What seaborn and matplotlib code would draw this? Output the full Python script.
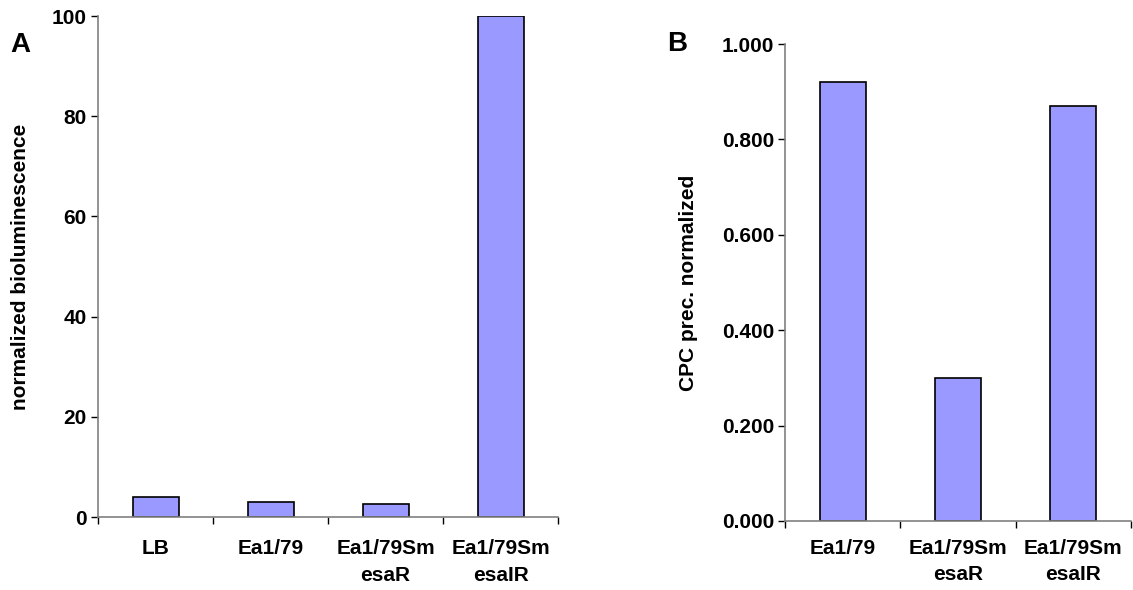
import matplotlib
matplotlib.use("Agg")
import matplotlib.pyplot as plt
import seaborn as sns
import pandas as pd
import numpy as np

# Data
cats_a = ["LB", "Ea1/79", "Ea1/79Sm\nesaR", "Ea1/79Sm\nesaIR"]
vals_a = [4.0, 2.9, 2.65, 100.0]
cats_b = ["Ea1/79", "Ea1/79Sm\nesaR", "Ea1/79Sm\nesaIR"]
vals_b = [0.921, 0.300, 0.870]
yticks_a = [0, 20, 40, 60, 80, 100]
yticks_b = [0.0, 0.2, 0.4, 0.6, 0.8, 1.0]

sns.set_style("white")
plt.rcParams['font.family'] = ['Liberation Sans', 'DejaVu Sans']
plt.rcParams['font.weight'] = 'bold'
plt.rcParams['text.color'] = 'black'
plt.rcParams['axes.labelcolor'] = 'black'
plt.rcParams['xtick.color'] = 'black'
plt.rcParams['ytick.color'] = 'black'

fig = plt.figure(figsize=(11.33, 5.9), dpi=100)
axA = fig.add_axes([0.0865, 0.1237, 0.406, 0.849])
axB = fig.add_axes([0.693, 0.117, 0.305, 0.8084])

bar_color = "#9999FF"
spine_color = "#808080"
FS = 15

def style(ax, cats, ylabel, yticks, fmt, pad, ls):
    n = len(cats)
    ax.set_xlim(-0.5, n - 0.5)
    ax.set_ylim(yticks[0], yticks[-1])
    ax.set_yticks(yticks)
    ax.set_yticklabels([fmt(v) for v in yticks], fontsize=FS, fontweight='bold', color='black')
    ax.set_xticks(range(n))
    ax.set_xticklabels(cats, fontsize=FS, fontweight='bold', linespacing=ls, color='black')
    ax.set_xticks(np.arange(-0.5, n, 1.0), minor=True)
    ax.tick_params(axis='x', which='major', length=0, pad=pad, bottom=True)
    ax.tick_params(axis='x', which='minor', length=5, direction='out', color='black', width=1, bottom=True)
    ax.tick_params(axis='y', which='major', length=5, direction='out', color='black', width=1, pad=3, left=True)
    for s in ['top', 'right']:
        ax.spines[s].set_visible(False)
    for s in ['left', 'bottom']:
        ax.spines[s].set_color(spine_color)
        ax.spines[s].set_linewidth(1.2)
    ax.set_xlabel("")
    ax.set_ylabel(ylabel, fontsize=FS, fontweight='bold', color='black')

dfA = pd.DataFrame({"cat": cats_a, "val": vals_a})
sns.barplot(data=dfA, x="cat", y="val", ax=axA, color=bar_color, edgecolor="black",
            linewidth=1.2, width=0.4, saturation=1)
style(axA, cats_a, "normalized bioluminescence", yticks_a, lambda v: f"{int(v)}", 16, 1.55)
axA.yaxis.set_label_coords(-0.147, 0.5)

dfB = pd.DataFrame({"cat": cats_b, "val": vals_b})
sns.barplot(data=dfB, x="cat", y="val", ax=axB, color=bar_color, edgecolor="black",
            linewidth=1.2, width=0.4, saturation=1)
style(axB, cats_b, "CPC prec. normalized", yticks_b, lambda v: f"{v:.3f}", 13, 1.45)
axB.yaxis.set_label_coords(-0.252, 0.5)

fig.text(0.009, 0.924, "A", fontsize=20, fontweight='bold', va='center', ha='left')
fig.text(0.589, 0.925, "B", fontsize=20, fontweight='bold', va='center', ha='left')

fig.savefig("out.png", dpi=100)
